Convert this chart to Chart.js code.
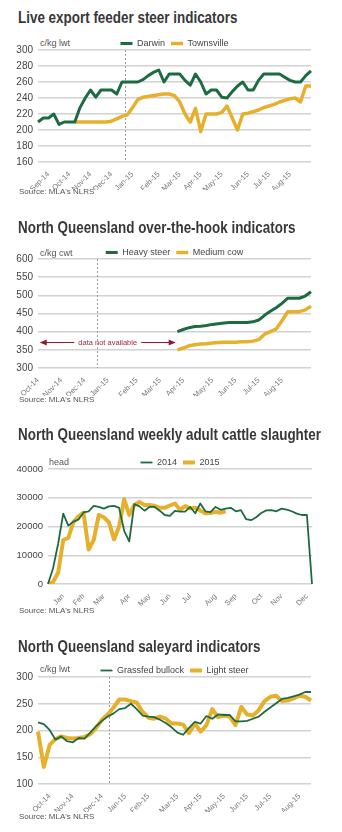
<!DOCTYPE html>
<html lang="en">
<head>
<meta charset="utf-8">
<title>North Queensland cattle indicators</title>
<script src="https://cdn.jsdelivr.net/npm/chart.js@4.4.1/dist/chart.umd.min.js"></script>
<style>
  html, body { margin: 0; padding: 0; background: #fff; }
  body { position: relative; width: 342px; height: 832px; overflow: hidden; font-family: "Liberation Sans", Arial, sans-serif; }
  .title { position: absolute; left: 18px; height: 20px; line-height: 20px; white-space: nowrap;
           font: bold 17px "Liberation Sans", Arial, sans-serif; color: #383838;
           transform: scaleX(0.79); transform-origin: 0 0; }
  .unit { position: absolute; line-height: 10px; font-size: 9px; color: #555; }
  .source { position: absolute; left: 19px; line-height: 10px; font-size: 8px; color: #555; }
  canvas { position: absolute; left: 0; display: block; }
</style>
</head>
<body>

<div class="title" style="top:8px">Live export feeder steer indicators</div>
<div class="unit" style="top:38px;left:40px">c/kg lwt</div>
<canvas id="feeder" width="342" height="157" style="top:33px"></canvas>
<div class="source" style="top:187px">Source: MLA's NLRS</div>

<div class="title" style="top:218px">North Queensland over-the-hook indicators</div>
<div class="unit" style="top:248px;left:40px">c/kg cwt</div>
<canvas id="hook" width="342" height="154" style="top:242px"></canvas>
<div class="source" style="top:395px">Source: MLA's NLRS</div>

<div class="title" style="top:425px">North Queensland weekly adult cattle slaughter</div>
<div class="unit" style="top:457px;left:49px">head</div>
<canvas id="slaughter" width="342" height="160" style="top:452px"></canvas>
<div class="source" style="top:606px">Source: MLA's NLRS</div>

<div class="title" style="top:637px">North Queensland saleyard indicators</div>
<div class="unit" style="top:664px;left:40px">c/kg lwt</div>
<canvas id="saleyard" width="342" height="152" style="top:660px"></canvas>
<div class="source" style="top:812px">Source: MLA's NLRS</div>

<script>
// Live export feeder steer indicators, c/kg lwt, weekly
const feederMonths = ['Sep-14', 'Oct-14', 'Nov-14', 'Dec-14', 'Jan-15', 'Feb-15', 'Mar-15', 'Apr-15', 'May-15', 'Jun-15', 'Jul-15', 'Aug-15'];
const feederMonthWeek = [2, 6, 10, 14, 18, 23, 27, 31, 35, 40, 44, 48];
const darwin = [210, 215, 215, 220, 207, 210, 210, 210, 228, 240,
                250, 241, 250, 250, 250, 245, 260, 260, 260, 260,
                263, 268, 272, 275, 260, 270, 270, 270, 262, 256,
                270, 260, 245, 250, 250, 241, 240, 248, 255, 260,
                250, 250, 262, 270, 270, 270, 270, 266, 262, 260,
                260, 268, 274];
const townsville = [null, null, null, null, null, null, null, 210, 210, 210,
                    210, 210, 210, 210, 211, 214, 217, 219, 228, 238,
                    241, 242, 243, 244, 245, 245, 243, 235, 220, 210,
                    227, 198, 220, 220, 220, 222, 230, 215, 200, 220,
                    221, 223, 225, 228, 230, 232, 235, 237, 239, 240,
                    235, 255, 255];

// North Queensland over-the-hook indicators, c/kg cwt, weekly
const hookMonths = ['Oct-14', 'Nov-14', 'Dec-14', 'Jan-15', 'Feb-15', 'Mar-15', 'Apr-15', 'May-15', 'Jun-15', 'Jul-15', 'Aug-15'];
const hookMonthWeek = [0, 4, 8, 12, 17, 21, 25, 30, 34, 38, 42];
const heavySteer = [null, null, null, null, null, null, null, null, null, null,
                    null, null, null, null, null, null, null, null, null, null,
                    null, null, null, null,
                    400, 406, 411, 414, 415, 417, 420, 422, 424, 425,
                    425, 425, 425, 427, 432, 445, 456, 466, 478, 492,
                    492, 492, 498, 510];
const mediumCow = [null, null, null, null, null, null, null, null, null, null,
                   null, null, null, null, null, null, null, null, null, null,
                   null, null, null, null,
                   350, 355, 361, 364, 366, 367, 369, 370, 371, 371,
                   371, 372, 372, 374, 378, 393, 400, 407, 430, 455,
                   455, 455, 460, 470];

// North Queensland weekly adult cattle slaughter, head
const slaughterMonths = ['Jan', 'Feb', 'Mar', 'Apr', 'May', 'Jun', 'Jul', 'Aug', 'Sep', 'Oct', 'Nov', 'Dec'];
const slaughterMonthWeek = [3, 7, 11, 16, 20, 24, 28, 33, 37, 42, 46, 51];
const head2014 = [0, 5500, 14000, 24500, 20300, 21700, 22400, 24900, 25300, 27200,
                  26800, 26200, 27000, 27200, 26500, 18500, 14800, 27800, 27000, 25500,
                  26800, 26800, 25500, 24000, 23700, 25400, 25200, 25200, 26800, 24600,
                  28000, 25300, 25000, 26800, 25800, 26200, 26500, 25300, 25700, 22600,
                  22200, 23200, 24700, 25600, 25700, 25300, 26200, 25900, 25300, 24500,
                  24000, 24000, 0];
const head2015 = [0, 700, 4000, 15300, 16000, 21500, 23500, 24800, 12000, 15300,
                  24000, 23200, 21500, 15500, 20000, 29500, 24000, 27500, 28500, 27500,
                  27500, 27200, 26500, 26500, 27300, 28000, 25800, 27100, 26300, 26500,
                  25600, 24600, 24700, 25100, 24800, 25300];

// North Queensland saleyard indicators, c/kg lwt, weekly
const saleMonths = ['Oct-14', 'Nov-14', 'Dec-14', 'Jan-15', 'Feb-15', 'Mar-15', 'Apr-15', 'May-15', 'Jun-15', 'Jul-15', 'Aug-15'];
const saleMonthWeek = [2, 6, 11, 15, 19, 24, 28, 32, 36, 40, 45];
const grassfedBullock = [215, 212, 201, 183, 189, 180, 178, 186, 185, 196,
                         208, 218, 226, 232, 240, 242, 250, 240, 228, 226,
                         225, 220, 214, 206, 196, 192, 205, 216, 213, 227,
                         222, 230, 229, 229, 217, 217, 218, 222, 226, 235,
                         243, 251, 259, 261, 264, 267, 272, 272];
const lightSteer = [198, 132, 173, 184, 189, 186, 185, 186, 188, 193,
                    205, 220, 230, 243, 258, 258, 255, 252, 235, 224,
                    222, 226, 222, 213, 213, 211, 195, 213, 198, 210,
                    240, 225, 228, 226, 210, 244, 230, 228, 238, 255,
                    263, 265, 255, 256, 260, 265, 263, 256];

const GREEN = '#1d6b40';
const GOLD = '#e6b02c';

Chart.defaults.font.family = '"Liberation Sans", Arial, sans-serif';
Chart.defaults.color = '#444';

// one label per week, month names only where the month starts
function weekLabels(count, months, at) {
  const labels = new Array(count).fill('');
  months.forEach((m, i) => { labels[at[i]] = m; });
  return labels;
}

// keeps the legend row a fixed height so the plots line up
const legendHeight = {
  id: 'legendHeight',
  beforeInit(chart, args, opts) {
    const fit = chart.legend.fit;
    chart.legend.fit = function () {
      fit.call(this);
      this.height = opts.height;
    };
  }
};

// dotted year divider and the "data not available" arrow
const markers = {
  id: 'markers',
  beforeDatasetsDraw(chart, args, opts) {
    const { ctx, chartArea, scales: { x, y } } = chart;
    if (opts.yearBreak != null) {
      const px = Math.round(x.getPixelForValue(opts.yearBreak)) + 0.5;
      ctx.save();
      ctx.strokeStyle = '#9a9a9a';
      ctx.lineWidth = 1;
      ctx.setLineDash([2, 2]);
      ctx.beginPath();
      ctx.moveTo(px, chartArea.top);
      ctx.lineTo(px, chartArea.bottom);
      ctx.stroke();
      ctx.restore();
    }
    if (opts.gap) {
      const g = opts.gap;
      const x0 = x.getPixelForValue(g.from);
      const x1 = x.getPixelForValue(g.to);
      const py = Math.round(y.getPixelForValue(g.value)) + 0.5;
      const mid = (x0 + x1) / 2;
      ctx.save();
      ctx.font = '7.5px "Liberation Sans", Arial, sans-serif';
      ctx.textAlign = 'center';
      ctx.textBaseline = 'middle';
      const half = ctx.measureText(g.text).width / 2 + 4;
      ctx.strokeStyle = '#8e1c2e';
      ctx.fillStyle = '#8e1c2e';
      ctx.lineWidth = 1.2;
      ctx.beginPath();
      ctx.moveTo(x0 + 4, py); ctx.lineTo(mid - half, py);
      ctx.moveTo(mid + half, py); ctx.lineTo(x1 - 4, py);
      ctx.stroke();
      [[x0, 1], [x1, -1]].forEach(([ax, dir]) => {
        ctx.beginPath();
        ctx.moveTo(ax, py);
        ctx.lineTo(ax + 7 * dir, py - 3);
        ctx.lineTo(ax + 7 * dir, py + 3);
        ctx.closePath();
        ctx.fill();
      });
      ctx.fillStyle = '#a2293b';
      ctx.fillText(g.text, mid, py);
      ctx.restore();
    }
  }
};

function lineChart(id, cfg) {
  return new Chart(document.getElementById(id), {
    type: 'line',
    data: { labels: cfg.labels, datasets: cfg.datasets },
    plugins: [legendHeight, markers],
    options: {
      responsive: false,
      animation: false,
      layout: { padding: { left: 0, right: cfg.right, top: 0, bottom: 0 } },
      elements: { point: { radius: 0 }, line: { tension: 0, borderJoinStyle: 'round' } },
      plugins: {
        legendHeight: { height: 17 },
        markers: { yearBreak: cfg.yearBreak, gap: cfg.gap },
        tooltip: { enabled: false },
        legend: {
          fullSize: false,
          labels: {
            usePointStyle: true,
            pointStyle: 'line',
            pointStyleWidth: 12,
            padding: 6,
            color: '#444',
            font: { size: 9 }
          }
        }
      },
      scales: {
        x: {
          grid: { display: false },
          border: { display: false },
          ticks: {
            autoSkip: false,
            maxRotation: 45,
            minRotation: 45,
            padding: 0,
            color: '#777',
            font: { size: 7.5 }
          },
          afterFit(scale) { scale.height = 28; }
        },
        y: {
          min: cfg.min,
          max: cfg.max,
          grid: { color: '#d2d2d2', lineWidth: 1.5, drawTicks: false },
          border: { display: false },
          ticks: {
            stepSize: cfg.step,
            padding: 5,
            color: '#444',
            font: { size: cfg.tickSize || 10 },
            callback: (v) => String(v)
          },
          afterFit(scale) { scale.width = cfg.axisWidth; }
        }
      }
    }
  });
}

lineChart('feeder', {
  labels: weekLabels(darwin.length, feederMonths, feederMonthWeek),
  datasets: [
    { label: 'Darwin', data: darwin, borderColor: GREEN, backgroundColor: GREEN, borderWidth: 3 },
    { label: 'Townsville', data: townsville, borderColor: GOLD, backgroundColor: GOLD, borderWidth: 3.5 }
  ],
  min: 160, max: 300, step: 20, axisWidth: 38, right: 31, yearBreak: 16.6
});

lineChart('hook', {
  labels: weekLabels(heavySteer.length, hookMonths, hookMonthWeek),
  datasets: [
    { label: 'Heavy steer', data: heavySteer, borderColor: GREEN, backgroundColor: GREEN, borderWidth: 3 },
    { label: 'Medium cow', data: mediumCow, borderColor: GOLD, backgroundColor: GOLD, borderWidth: 3.5 }
  ],
  min: 300, max: 600, step: 50, axisWidth: 38, right: 31, yearBreak: 10.1,
  gap: { from: 0.3, to: 23.7, value: 371, text: 'data not available' }
});

lineChart('slaughter', {
  labels: weekLabels(head2014.length, slaughterMonths, slaughterMonthWeek),
  datasets: [
    { label: '2014', data: head2014, borderColor: GREEN, backgroundColor: GREEN, borderWidth: 1.8 },
    { label: '2015', data: head2015, borderColor: GOLD, backgroundColor: GOLD, borderWidth: 4 }
  ],
  min: 0, max: 40000, step: 10000, axisWidth: 48, right: 30, tickSize: 9.5
});

lineChart('saleyard', {
  labels: weekLabels(grassfedBullock.length, saleMonths, saleMonthWeek),
  datasets: [
    { label: 'Grassfed bullock', data: grassfedBullock, borderColor: GREEN, backgroundColor: GREEN, borderWidth: 1.8 },
    { label: 'Light steer', data: lightSteer, borderColor: GOLD, backgroundColor: GOLD, borderWidth: 4 }
  ],
  min: 100, max: 300, step: 50, axisWidth: 38, right: 31, yearBreak: 12.2
});
</script>
</body>
</html>
